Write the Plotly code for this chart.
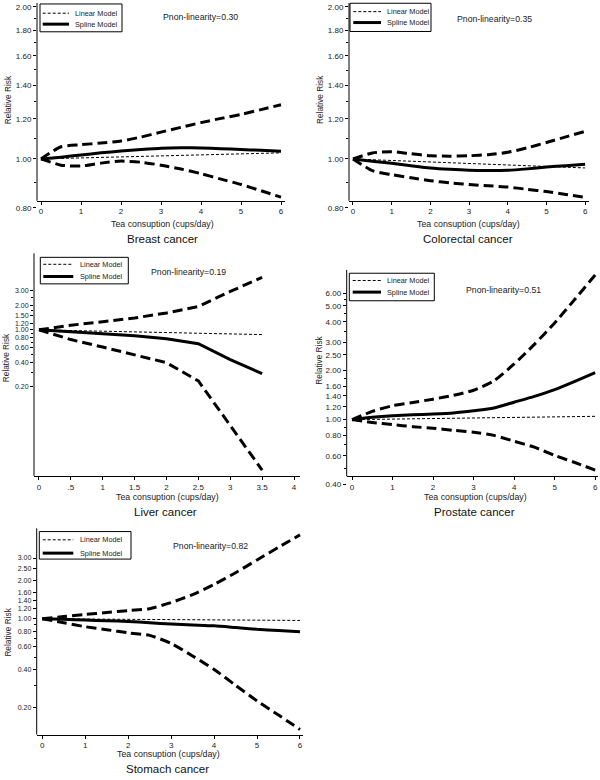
import math
import plotly.graph_objects as go

# ---------------- DATA ----------------
cups_6 = [0, 0.5, 1, 1.5, 2, 2.5, 3, 3.5, 4, 4.5, 5, 5.5, 6]
cups_liver = [0, 0.5, 1, 1.5, 2, 2.5, 3, 3.5]
linear_x_6 = [0, 6]
linear_x_liver = [0, 3.5]

breast_spline = [1.0, 1.008, 1.018, 1.028, 1.037, 1.044, 1.05, 1.052, 1.051, 1.048, 1.044, 1.040, 1.036]
breast_upper = [1.0, 1.057, 1.067, 1.075, 1.085, 1.105, 1.13, 1.155, 1.18, 1.203, 1.225, 1.252, 1.28]
breast_lower = [1.0, 0.972, 0.968, 0.981, 0.99, 0.985, 0.972, 0.955, 0.935, 0.912, 0.89, 0.865, 0.84]
breast_linear = [1.0, 1.028]

colorectal_spline = [1.0, 0.99, 0.981, 0.97, 0.96, 0.954, 0.95, 0.949, 0.95, 0.956, 0.964, 0.97, 0.976]
colorectal_upper = [1.0, 1.028, 1.034, 1.024, 1.015, 1.013, 1.015, 1.02, 1.031, 1.052, 1.078, 1.106, 1.134]
colorectal_lower = [1.0, 0.948, 0.931, 0.918, 0.906, 0.897, 0.89, 0.885, 0.88, 0.871, 0.862, 0.851, 0.84]
colorectal_linear = [1.0, 0.96]

liver_spline = [1.0, 0.945, 0.90, 0.845, 0.78, 0.675, 0.43, 0.29]
liver_upper = [1.0, 1.14, 1.26, 1.40, 1.61, 1.94, 2.96, 4.4]
liver_lower = [1.0, 0.76, 0.615, 0.49, 0.395, 0.236, 0.067, 0.019]
liver_linear = [1.0, 0.875]

prostate_spline = [1.0, 1.035, 1.058, 1.07, 1.082, 1.1, 1.135, 1.18, 1.28, 1.39, 1.53, 1.72, 1.945]
prostate_upper = [1.0, 1.124, 1.218, 1.276, 1.336, 1.41, 1.516, 1.73, 2.2, 2.9, 3.93, 5.5, 7.75]
prostate_lower = [1.0, 0.96, 0.932, 0.905, 0.885, 0.86, 0.836, 0.80, 0.737, 0.677, 0.603, 0.545, 0.49]
prostate_linear = [1.0, 1.048]

stomach_spline = [1.0, 0.99, 0.977, 0.965, 0.953, 0.93, 0.91, 0.895, 0.88, 0.853, 0.826, 0.808, 0.79]
stomach_upper = [1.0, 1.04, 1.08, 1.12, 1.16, 1.2, 1.34, 1.55, 1.86, 2.3, 2.9, 3.65, 4.56]
stomach_lower = [1.0, 0.93, 0.866, 0.82, 0.775, 0.74, 0.64, 0.51, 0.40, 0.30, 0.226, 0.175, 0.135]
stomach_linear = [1.0, 0.97]

panel_titles = ["Breast cancer", "Colorectal cancer", "Liver cancer", "Prostate cancer", "Stomach cancer"]
p_nonlinearity = ["Pnon-linearity=0.30", "Pnon-linearity=0.35", "Pnon-linearity=0.19",
                  "Pnon-linearity=0.51", "Pnon-linearity=0.82"]

x_ticks_6 = [0, 1, 2, 3, 4, 5, 6]
x_ticks_liver = [0, 0.5, 1, 1.5, 2, 2.5, 3, 3.5, 4]
x_ticktext_liver = ["0", ".5", "1", "1.5", "2", "2.5", "3", "3.5", "4"]

y_ticks_bc = [0.8, 1.0, 1.2, 1.4, 1.6, 1.8, 2.0]
y_minor_bc = [0.9, 1.1, 1.3, 1.5, 1.7, 1.9]
y_ticks_liver = [0.2, 0.4, 0.6, 0.8, 1.0, 1.2, 1.5, 2.0, 3.0]
y_minor_liver = [0.3, 0.5, 0.7, 0.9, 1.75, 2.5]
y_ticks_prostate = [0.4, 0.6, 0.8, 1.0, 1.2, 1.4, 1.6, 2.0, 2.5, 3.0, 4.0, 5.0, 6.0]
y_minor_prostate = [0.5, 0.7, 0.9, 1.8, 3.5, 4.5, 5.5]
y_ticks_stomach = [0.2, 0.4, 0.6, 0.8, 1.0, 1.2, 1.4, 1.6, 2.0, 2.5, 3.0]
y_minor_stomach = [0.3, 0.5, 0.7, 0.9]

# ---------------- LAYOUT (pixel geometry) ----------------
W, H = 600, 780
def fx(p): return p / W
def fy(p): return 1 - p / H

FONT = "Liberation Sans, Arial, Helvetica, sans-serif"

panels = [
    dict(x=cups_6, sp=breast_spline, up=breast_upper, lo=breast_lower, lx=linear_x_6, lin=breast_linear,
         shape="spline", xdom=(37, 285), xr=(-0.1, 6.1), ydom=(3, 209.2), yr=(0.8, 2.036), xpos=202,
         xt=x_ticks_6, xtt=None, yt=y_ticks_bc, ym=y_minor_bc, yfs=8,
         leg=(40, 4, 122, 32, 13.3, 24.3, 42.7, 69, 74.3), pn=(200, 17),
         xtitle=(162, 225.5), title=(162, 240.5), ytitle=(8, 101)),
    dict(x=cups_6, sp=colorectal_spline, up=colorectal_upper, lo=colorectal_lower, lx=linear_x_6, lin=colorectal_linear,
         shape="spline", xdom=(349, 589), xr=(-0.103, 6.1), ydom=(3, 209.3), yr=(0.8, 2.036), xpos=202,
         xt=x_ticks_6, xtt=None, yt=y_ticks_bc, ym=y_minor_bc, yfs=8,
         leg=(350, 3.3, 431, 31.7, 11.7, 22.7, 353.3, 381, 386), pn=(494.7, 19),
         xtitle=(468.7, 225), title=(468, 240.5), ytitle=(320.7, 100)),
    dict(x=cups_liver, sp=liver_spline, up=liver_upper, lo=liver_lower, lx=linear_x_liver, lin=liver_linear,
         shape="linear", xdom=(34, 300), xr=(-0.078, 4.094), ydom=(255, 479), yr=(0.0161, 8.69), xpos=479,
         xt=x_ticks_liver, xtt=x_ticktext_liver, yt=y_ticks_liver, ym=y_minor_liver, yfs=7,
         leg=(40.3, 259, 128.3, 285.7, 266, 278.3, 43.3, 73.3, 79.3), pn=(188, 274),
         xtitle=(167, 500.7), title=(165, 515), ytitle=(5.5, 360)),
    dict(x=cups_6, sp=prostate_spline, up=prostate_upper, lo=prostate_lower, lx=linear_x_6, lin=prostate_linear,
         shape="spline", xdom=(346.7, 598), xr=(-0.131, 6.07), ydom=(271.7, 487.5), yr=(0.4, 8.32), xpos=479.3,
         xt=x_ticks_6, xtt=None, yt=y_ticks_prostate, ym=y_minor_prostate, yfs=8,
         leg=(349.3, 275, 434.3, 302.7, 282.3, 294, 352.7, 381, 386), pn=(503, 291.7),
         xtitle=(475.5, 500.7), title=(474, 515), ytitle=(319, 363)),
    dict(x=cups_6, sp=stomach_spline, up=stomach_upper, lo=stomach_lower, lx=linear_x_6, lin=stomach_linear,
         shape="spline", xdom=(36.7, 303), xr=(-0.13, 6.07), ydom=(531.7, 739.3), yr=(0.123, 5.14), xpos=739.3,
         xt=x_ticks_6, xtt=None, yt=y_ticks_stomach, ym=y_minor_stomach, yfs=7,
         leg=(39.3, 535, 131, 562.7, 543.3, 556.7, 42.7, 73.3, 79), pn=(210, 549.3),
         xtitle=(168.8, 759.3), title=(167.7, 774), ytitle=(8, 636.7)),
]

fig = go.Figure()
shapes = []
annotations = []
layout_axes = {}

for i, p in enumerate(panels, start=1):
    xa = "x" if i == 1 else f"x{i}"
    ya = "y" if i == 1 else f"y{i}"
    ci_style = dict(color="black", width=3, dash="10px,5px", shape=p["shape"], smoothing=0.6)
    fig.add_trace(go.Scatter(x=p["x"], y=p["up"], mode="lines", line=ci_style, xaxis=xa, yaxis=ya,
                             name="95% CI", showlegend=False))
    fig.add_trace(go.Scatter(x=p["x"], y=p["lo"], mode="lines", line=ci_style, xaxis=xa, yaxis=ya,
                             name="95% CI", showlegend=False))
    fig.add_trace(go.Scatter(x=p["lx"], y=p["lin"], mode="lines",
                             line=dict(color="black", width=1, dash="3px,2px"),
                             xaxis=xa, yaxis=ya, name="Linear Model", showlegend=False))
    fig.add_trace(go.Scatter(x=p["x"], y=p["sp"], mode="lines",
                             line=dict(color="black", width=3, shape=p["shape"], smoothing=0.6),
                             xaxis=xa, yaxis=ya, name="Spline Model", showlegend=False))

    xaxis = dict(domain=[fx(p["xdom"][0]), fx(p["xdom"][1])], range=list(p["xr"]),
                 anchor="free", position=fy(p["xpos"]),
                 showline=True, linecolor="black", linewidth=1, mirror=False,
                 ticks="outside", ticklen=3, tickcolor="black", tickwidth=1,
                 tickmode="array", tickvals=p["xt"],
                 tickfont=dict(size=8, color="#222", family=FONT),
                 showgrid=False, zeroline=False, fixedrange=True)
    if p["xtt"] is not None:
        xaxis["ticktext"] = p["xtt"]
    yaxis = dict(domain=[fy(p["ydom"][1]), fy(p["ydom"][0])], type="log",
                 range=[math.log10(p["yr"][0]), math.log10(p["yr"][1])],
                 anchor=xa, showline=False,
                 ticks="outside", ticklen=3, tickcolor="black", tickwidth=1,
                 tickmode="array", tickvals=p["yt"], tickformat=".2f",
                 tickfont=dict(size=p["yfs"], color="#222", family=FONT),
                 minor=dict(tickmode="array", tickvals=p["ym"], ticks="outside", ticklen=2,
                            tickcolor="black", tickwidth=1, showgrid=False),
                 showgrid=False, zeroline=False, fixedrange=True)
    layout_axes["xaxis" if i == 1 else f"xaxis{i}"] = xaxis
    layout_axes["yaxis" if i == 1 else f"yaxis{i}"] = yaxis

    # y axis line from x axis up to the top of the plot region
    shapes.append(dict(type="line", xref=f"{xa} domain", yref="paper", x0=0, x1=0,
                       y0=fy(p["xpos"]), y1=fy(p["ydom"][0]), line=dict(color="black", width=1)))

    # legend box
    l0, t0, r0, b0, yl1, yl2, lx0, lx1, tx = p["leg"]
    shapes.append(dict(type="rect", xref="paper", yref="paper", x0=fx(l0), x1=fx(r0),
                       y0=fy(b0), y1=fy(t0), line=dict(color="black", width=1), fillcolor="white"))
    shapes.append(dict(type="line", xref="paper", yref="paper", x0=fx(lx0), x1=fx(lx1),
                       y0=fy(yl1), y1=fy(yl1), line=dict(color="black", width=1, dash="3px,2px")))
    shapes.append(dict(type="line", xref="paper", yref="paper", x0=fx(lx0), x1=fx(lx1),
                       y0=fy(yl2), y1=fy(yl2), line=dict(color="black", width=3)))
    annotations.append(dict(text="Linear Model", xref="paper", yref="paper", x=fx(tx - 1), y=fy(yl1),
                            xanchor="left", yanchor="middle", showarrow=False,
                            font=dict(size=7.3, color="#222", family=FONT)))
    annotations.append(dict(text="Spline Model", xref="paper", yref="paper", x=fx(tx - 1), y=fy(yl2),
                            xanchor="left", yanchor="middle", showarrow=False,
                            font=dict(size=7.3, color="#222", family=FONT)))
    annotations.append(dict(text=p_nonlinearity[i - 1], xref="paper", yref="paper",
                            x=fx(p["pn"][0]), y=fy(p["pn"][1]), xanchor="center", yanchor="middle",
                            showarrow=False, font=dict(size=8.7, color="#222", family=FONT)))
    annotations.append(dict(text="Tea consuption (cups/day)", xref="paper", yref="paper",
                            x=fx(p["xtitle"][0]), y=fy(p["xtitle"][1]), xanchor="center", yanchor="middle",
                            showarrow=False, font=dict(size=8.8, color="#222", family=FONT)))
    annotations.append(dict(text=panel_titles[i - 1], xref="paper", yref="paper",
                            x=fx(p["title"][0]), y=fy(p["title"][1]), xanchor="center", yanchor="middle",
                            showarrow=False, font=dict(size=11.5, color="#111", family=FONT)))
    annotations.append(dict(text="Relative Risk", xref="paper", yref="paper", textangle=-90,
                            x=fx(p["ytitle"][0]), y=fy(p["ytitle"][1]), xanchor="center", yanchor="middle",
                            showarrow=False, font=dict(size=8.3, color="#222", family=FONT)))

fig.update_layout(
    width=W, height=H,
    margin=dict(l=0, r=0, t=0, b=0),
    paper_bgcolor="white", plot_bgcolor="white",
    showlegend=False,
    shapes=shapes, annotations=annotations,
    font=dict(family=FONT, color="#222"),
    **layout_axes,
)

fig.write_html("out.html",
               config={"displayModeBar": False, "staticPlot": True},
               post_script="document.body.style.margin='0';document.body.style.padding='0';"
                           "document.body.style.overflow='hidden';")
